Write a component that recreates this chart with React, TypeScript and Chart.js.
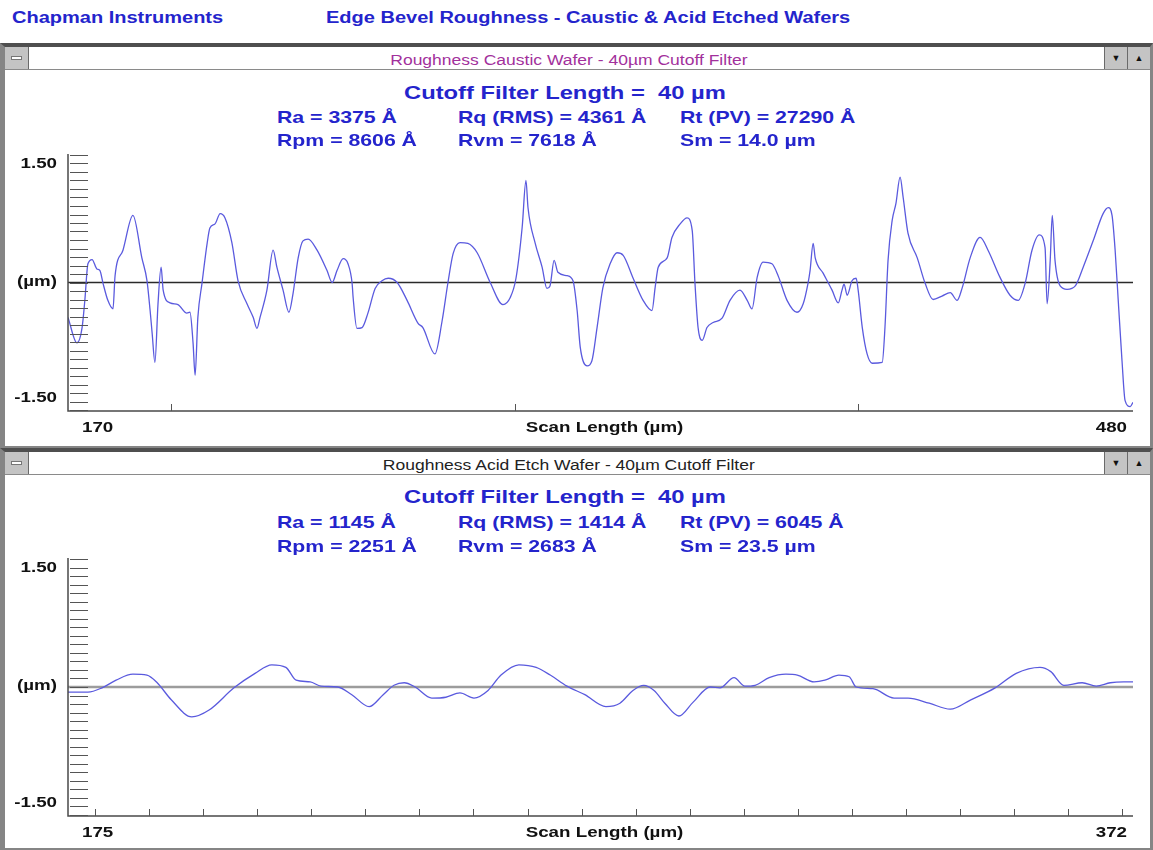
import React, { useEffect, useRef } from 'react';
import { Chart, registerables } from 'chart.js';

Chart.register(...registerables);

// ---------- DATA ----------
const HEADER_LEFT = 'Chapman Instruments';
const HEADER_TITLE = 'Edge Bevel Roughness - Caustic & Acid Etched Wafers';
const TOP_WINDOW_TITLE = 'Roughness Caustic Wafer - 40µm Cutoff Filter';
const BOT_WINDOW_TITLE = 'Roughness Acid Etch Wafer - 40µm Cutoff Filter';
const CUTOFF_TEXT = 'Cutoff Filter Length =  40 µm';
const TOP_STATS = [
  ['Ra = 3375 Å', 'Rq (RMS) = 4361 Å', 'Rt (PV) = 27290 Å'],
  ['Rpm = 8606 Å', 'Rvm = 7618 Å', 'Sm = 14.0 µm'],
];
const BOT_STATS = [
  ['Ra = 1145 Å', 'Rq (RMS) = 1414 Å', 'Rt (PV) = 6045 Å'],
  ['Rpm = 2251 Å', 'Rvm = 2683 Å', 'Sm = 23.5 µm'],
];

const Y_MIN = -1.5;
const Y_MAX = 1.5;
const Y_LABELS = ['1.50', '(µm)', '-1.50'];
const Y_LABEL_VALUES = [1.5, 0, -1.5];
const Y_MINOR_TICKS = [
  -1.5, -1.4, -1.3, -1.2, -1.1, -1.0, -0.9, -0.8, -0.7, -0.6, -0.5, -0.4, -0.3, -0.2, -0.1,
  0, 0.1, 0.2, 0.3, 0.4, 0.5, 0.6, 0.7, 0.8, 0.9, 1.0, 1.1, 1.2, 1.3, 1.4, 1.5,
];
const X_AXIS_TITLE = 'Scan Length (µm)';

const TOP_X_MIN = 170;
const TOP_X_MAX = 480;
const TOP_X_LABELS = ['170', '480'];
const TOP_X_TICKS = [200, 300, 400];

const BOT_X_MIN = 175;
const BOT_X_MAX = 372;
const BOT_X_LABELS = ['175', '372'];
const BOT_X_TICKS = [180, 190, 200, 210, 220, 230, 240, 250, 260, 270, 280, 290, 300, 310, 320, 330, 340, 350, 360, 370];

// Caustic wafer profile (scan position µm, height µm)
const TOP_X = [
  170.0, 172.6, 174.1, 174.9, 175.8, 177.0, 178.4, 179.3, 180.2, 181.6,
  183.1, 183.7, 186.0, 188.9, 191.5, 193.0, 193.9, 194.5, 195.3, 196.2,
  197.1, 197.7, 199.7, 202.0, 204.6, 205.5, 206.4, 207.0, 207.8, 209.0,
  210.5, 211.3, 212.8, 214.3, 215.7, 217.7, 219.5, 222.1, 223.9, 225.0,
  225.9, 227.9, 229.7, 230.8, 232.6, 234.3, 235.5, 237.0, 238.4, 239.9,
  242.5, 245.4, 246.9, 248.3, 250.1, 251.5, 252.7, 253.0, 254.1, 255.6,
  257.3, 259.4, 261.4, 263.2, 265.8, 268.7, 271.9,
  273.3, 276.8, 278.9, 280.6, 282.1, 284.1, 286.4, 289.1, 292.9, 296.6,
  298.7, 300.4, 302.2, 303.3, 303.9, 306.0, 308.0, 309.4, 310.3, 311.5,
  312.6, 315.3, 317.0, 318.2, 319.1, 321.1, 322.5, 324.0, 325.7, 327.8,
  329.8, 331.6, 334.5, 337.4, 340.0, 340.9, 341.8, 344.4, 345.8, 348.2,
  350.2, 351.7, 352.5, 353.4, 354.6, 356.0, 357.8, 360.4, 362.7, 365.6,
  367.7, 369.1, 370.6, 372.3, 374.9,
  376.7, 379.3, 382.2, 384.0, 385.4, 386.0, 386.9, 387.5, 389.8, 392.4,
  394.2, 395.3, 395.9, 396.8, 398.2, 399.4, 400.0, 401.2, 402.6, 404.1,
  407.0, 407.8, 408.7, 409.9, 411.0, 412.2, 413.1, 414.5, 417.2, 419.5,
  421.8, 424.4, 426.8, 428.8, 430.3, 432.6, 435.5, 437.8, 441.3, 444.2,
  446.6, 448.6, 450.6, 452.7, 454.4, 455.0, 455.9, 456.5, 457.3, 458.8,
  460.8, 463.2, 465.5, 468.4, 471.3, 472.8, 473.9, 474.8, 475.7, 476.8,
  477.7, 479.2, 480.0,
];
const TOP_Y = [
  -0.41, -0.71, -0.53, -0.21, 0.22, 0.27, 0.16, 0.14, -0.01, -0.21,
  -0.31, 0.08, 0.38, 0.79, 0.29, 0.02, -0.33, -0.60, -0.94, -0.25,
  0.18, -0.09, -0.24, -0.26, -0.36, -0.35, -0.71, -1.09, -0.41, -0.01,
  0.46, 0.64, 0.69, 0.81, 0.76, 0.47, 0.02, -0.25, -0.41, -0.54,
  -0.41, -0.09, 0.38, 0.18, -0.09, -0.35, -0.13, 0.29, 0.49, 0.51,
  0.38, 0.14, 0.00, 0.14, 0.28, 0.22, -0.01, -0.18, -0.54, -0.53,
  -0.36, -0.07, 0.02, 0.05, 0.00, -0.21, -0.48,
  -0.53, -0.84, -0.45, 0.00, 0.34, 0.47, 0.46, 0.35, 0.00, -0.26,
  -0.18, 0.05, 0.65, 1.20, 0.88, 0.46, 0.18, -0.07, -0.04, 0.26,
  0.12, 0.08, 0.02, -0.33, -0.76, -0.98, -0.92, -0.53, -0.06, 0.22,
  0.35, 0.32, 0.05, -0.21, -0.33, -0.06, 0.18, 0.29, 0.53, 0.69,
  0.76, 0.61, -0.01, -0.53, -0.68, -0.53, -0.47, -0.42, -0.21, -0.09,
  -0.21, -0.31, 0.06, 0.24, 0.22,
  0.08, -0.21, -0.35, -0.25, -0.01, 0.14, 0.46, 0.29, 0.11, -0.09,
  -0.24, -0.09, -0.02, -0.15, 0.02, 0.05, -0.09, -0.53, -0.84, -0.95,
  -0.94, -0.53, 0.26, 0.73, 0.93, 1.24, 1.00, 0.58, 0.29, -0.01,
  -0.20, -0.16, -0.12, -0.21, -0.06, 0.29, 0.53, 0.38, 0.06, -0.15,
  -0.21, -0.01, 0.38, 0.56, 0.41, -0.25, 0.26, 0.79, 0.26, -0.04,
  -0.08, -0.04, 0.18, 0.49, 0.81, 0.88, 0.79, 0.38, -0.21, -0.92,
  -1.39, -1.46, -1.41,
];

// Acid etch wafer profile
const BOT_X = [
  175.0, 178.7, 181.3, 183.9, 187.0, 189.6, 191.5, 194.1, 197.9, 201.1,
  205.7, 209.6, 212.7, 215.3, 217.2, 219.8, 221.8, 224.9, 227.5, 230.7,
  233.3, 235.3, 237.2, 239.2, 242.3, 244.9, 247.5, 250.1, 252.7, 255.1,
  258.4, 261.6, 264.2, 267.3, 270.6, 274.5, 277.1, 279.5, 281.5, 283.4,
  285.4, 288.0, 290.6, 293.8, 295.6, 298.2, 300.2, 302.1, 304.7, 307.8,
  309.9, 313.0, 315.0, 317.6, 319.5, 320.8, 323.9, 327.8, 330.4, 334.3,
  338.2, 342.0, 346.5, 350.4, 354.8, 356.8, 359.2, 362.6, 365.2, 367.8,
  370.3, 372.0,
];
const BOT_Y = [
  -0.06, -0.06, -0.01, 0.08, 0.15, 0.14, 0.05, -0.15, -0.35, -0.27,
  -0.01, 0.16, 0.26, 0.23, 0.08, 0.06, 0.01, 0.00, -0.09, -0.23,
  -0.09, 0.02, 0.05, 0.00, -0.13, -0.12, -0.07, -0.13, -0.04, 0.14,
  0.26, 0.23, 0.14, 0.01, -0.09, -0.23, -0.19, -0.04, 0.02, -0.04,
  -0.19, -0.34, -0.18, 0.00, -0.01, 0.11, 0.01, 0.02, 0.11, 0.15,
  0.14, 0.06, 0.08, 0.14, 0.12, 0.00, -0.02, -0.13, -0.13, -0.19,
  -0.26, -0.15, -0.01, 0.16, 0.23, 0.18, 0.02, 0.05, 0.01, 0.05,
  0.06, 0.06,
];

// ---------- STYLE ----------
const FONT = '"Liberation Sans", Arial, Helvetica, sans-serif';
const SX = 1.25;
const BLUE = '#2424cc';
const TRACE = '#5a5ade';

type PanelCfg = {
  xs: number[];
  ys: number[];
  xMin: number;
  xMax: number;
  xTicks: number[];
  xLabels: string[];
  zeroColor: string;
  zeroWidth: number;
  padTop: number;
  padBottom: number;
  tickColor: string;
};

function drawStretched(ctx: CanvasRenderingContext2D, text: string, x: number, y: number, align: CanvasTextAlign) {
  ctx.save();
  ctx.translate(x, y);
  ctx.scale(SX, 1);
  ctx.textAlign = align;
  ctx.textBaseline = 'middle';
  ctx.fillText(text, 0, 0);
  ctx.restore();
}

function makePlugin(cfg: PanelCfg) {
  return {
    id: 'profileFrame',
    beforeDatasetsDraw(chart: any) {
      const { ctx, chartArea } = chart;
      const y = chart.scales.y;
      const p0 = y.getPixelForValue(0);
      ctx.save();
      ctx.strokeStyle = cfg.zeroColor;
      ctx.lineWidth = cfg.zeroWidth;
      ctx.beginPath();
      ctx.moveTo(chartArea.left, p0);
      ctx.lineTo(chartArea.right, p0);
      ctx.stroke();
      ctx.restore();
    },
    afterDatasetsDraw(chart: any) {
      const { ctx, chartArea } = chart;
      const xs = chart.scales.x;
      const ys = chart.scales.y;
      const { left, right, top, bottom } = chartArea;
      ctx.save();
      // axis lines
      ctx.strokeStyle = '#4a4a4a';
      ctx.lineWidth = 1.5;
      ctx.beginPath();
      ctx.moveTo(left, top - 1);
      ctx.lineTo(left, bottom + 1);
      ctx.lineTo(right, bottom + 1);
      ctx.stroke();
      // minor y ticks inside plot
      ctx.strokeStyle = cfg.tickColor;
      ctx.lineWidth = 1;
      Y_MINOR_TICKS.forEach((v) => {
        const py = Math.round(ys.getPixelForValue(v)) + 0.5;
        ctx.beginPath();
        ctx.moveTo(left + 2, py);
        ctx.lineTo(left + 20, py);
        ctx.stroke();
      });
      // x ticks (upward)
      ctx.strokeStyle = '#555';
      cfg.xTicks.forEach((v) => {
        const px = Math.round(xs.getPixelForValue(v)) + 0.5;
        ctx.beginPath();
        ctx.moveTo(px, bottom + 1);
        ctx.lineTo(px, bottom - 6);
        ctx.stroke();
      });
      // y labels
      ctx.fillStyle = '#111';
      ctx.font = `bold 15px ${FONT}`;
      const yOff = [9, -1, -12];
      Y_LABEL_VALUES.forEach((v, i) => {
        drawStretched(ctx, Y_LABELS[i], 57, ys.getPixelForValue(v) + yOff[i], 'right');
      });
      // x labels
      const ly = bottom + 18;
      drawStretched(ctx, cfg.xLabels[0], left + 14, ly, 'left');
      drawStretched(ctx, X_AXIS_TITLE, (left + right) / 2 + 4, ly, 'center');
      drawStretched(ctx, cfg.xLabels[1], right - 6, ly, 'right');
      ctx.restore();
    },
  };
}

function ProfileChart({ cfg, top }: { cfg: PanelCfg; top: number }) {
  const ref = useRef<HTMLCanvasElement | null>(null);
  useEffect(() => {
    if (!ref.current) return;
    const n = Math.min(cfg.xs.length, cfg.ys.length);
    const pts = [];
    for (let i = 0; i < n; i++) pts.push({ x: cfg.xs[i], y: cfg.ys[i] });
    const chart = new Chart(ref.current, {
      type: 'line',
      data: {
        datasets: [
          {
            data: pts,
            borderColor: TRACE,
            borderWidth: 1.3,
            pointRadius: 0,
            fill: false,
            cubicInterpolationMode: 'monotone',
          },
        ],
      },
      options: {
        responsive: false,
        animation: false,
        events: [],
        layout: { padding: { left: 68, right: 20, top: cfg.padTop, bottom: cfg.padBottom } },
        plugins: { legend: { display: false }, tooltip: { enabled: false } },
        scales: {
          x: { type: 'linear', min: cfg.xMin, max: cfg.xMax, display: false },
          y: { type: 'linear', min: Y_MIN, max: Y_MAX, display: false },
        },
      },
      plugins: [makePlugin(cfg)],
    } as any);
    return () => chart.destroy();
  }, [cfg]);
  return (
    <canvas
      ref={ref}
      width={1153}
      height={295}
      style={{ position: 'absolute', left: 0, top, width: 1153, height: 295, zIndex: 5 }}
    />
  );
}

function Txt({ x, cy, size, color, text }: { x: number; cy: number; size: number; color: string; text: string }) {
  const lh = size + 6;
  return (
    <div
      style={{
        position: 'absolute',
        left: x,
        top: cy - lh / 2,
        height: lh,
        lineHeight: `${lh}px`,
        fontSize: size,
        fontWeight: 'bold',
        color,
        whiteSpace: 'pre',
        transform: `scaleX(${SX})`,
        transformOrigin: 'left center',
        zIndex: 6,
      }}
    >
      {text}
    </div>
  );
}

function CenterTxt({ cx, cy, size, color, text, bold }: { cx: number; cy: number; size: number; color: string; text: string; bold?: boolean }) {
  const lh = size + 6;
  return (
    <div
      style={{
        position: 'absolute',
        left: cx - 400,
        width: 800,
        top: cy - lh / 2,
        height: lh,
        lineHeight: `${lh}px`,
        textAlign: 'center',
        zIndex: 6,
      }}
    >
      <span
        style={{
          display: 'inline-block',
          fontSize: size,
          fontWeight: bold ? 'bold' : 'normal',
          color,
          whiteSpace: 'pre',
          transform: `scaleX(${SX})`,
          transformOrigin: 'center center',
        }}
      >
        {text}
      </span>
    </div>
  );
}

function WindowFrame({ top, height, title, titleColor }: { top: number; height: number; title: string; titleColor: string }) {
  const btn: React.CSSProperties = {
    position: 'absolute',
    top: 0,
    width: 22,
    height: 22,
    background: '#c4c4c4',
    display: 'flex',
    alignItems: 'center',
    justifyContent: 'center',
    fontSize: 9,
    color: '#111',
  };
  return (
    <div
      style={{
        position: 'absolute',
        left: 0,
        top,
        width: 1153,
        height,
        boxSizing: 'border-box',
        borderLeft: '5px solid #858585',
        borderRight: '3px solid #858585',
        borderBottom: '2px solid #858585',
        borderTop: '4px solid #4f4f4f',
        background: '#fff',
      }}
    >
      <div style={{ position: 'absolute', left: 0, right: 0, top: 0, height: 22, borderBottom: '1px solid #8a8a8a', background: '#fff' }}>
        <div style={{ ...btn, left: 0, width: 23, borderRight: '1px solid #6a6a6a' }}>
          <div style={{ width: 9, height: 2, background: '#fff', border: '1px solid #777' }} />
        </div>
        <div style={{ ...btn, right: 23, borderLeft: '1px solid #6a6a6a' }}>▼</div>
        <div style={{ ...btn, right: 0, borderLeft: '1px solid #6a6a6a' }}>▲</div>
      </div>
      <CenterTxt cx={564} cy={13} size={14} color={titleColor} text={title} />
    </div>
  );
}

const TOP_CFG: PanelCfg = {
  xs: TOP_X,
  ys: TOP_Y,
  xMin: TOP_X_MIN,
  xMax: TOP_X_MAX,
  xTicks: TOP_X_TICKS,
  xLabels: TOP_X_LABELS,
  zeroColor: '#2a2a2a',
  zeroWidth: 1.3,
  padTop: 5,
  padBottom: 35,
  tickColor: '#555',
};
const BOT_CFG: PanelCfg = {
  xs: BOT_X,
  ys: BOT_Y,
  xMin: BOT_X_MIN,
  xMax: BOT_X_MAX,
  xTicks: BOT_X_TICKS,
  xLabels: BOT_X_LABELS,
  zeroColor: '#9c9c9c',
  zeroWidth: 2.5,
  padTop: 6,
  padBottom: 33,
  tickColor: '#555',
};

export default function App() {
  const statCols = [277, 458, 680];
  return (
    <div
      style={{
        position: 'fixed',
        left: 0,
        top: 0,
        width: 1153,
        height: 850,
        background: '#fff',
        overflow: 'hidden',
        fontFamily: FONT,
      }}
    >
      <Txt x={12} cy={18} size={16} color={BLUE} text={HEADER_LEFT} />
      <Txt x={326} cy={18} size={16} color={BLUE} text={HEADER_TITLE} />

      <WindowFrame top={43} height={405} title={TOP_WINDOW_TITLE} titleColor="#a2309c" />
      <WindowFrame top={448} height={402} title={BOT_WINDOW_TITLE} titleColor="#222" />

      <Txt x={404} cy={92} size={19} color={BLUE} text={CUTOFF_TEXT} />
      {TOP_STATS.map((row, r) =>
        row.map((t, c) => <Txt key={`t${r}${c}`} x={statCols[c]} cy={117 + r * 23} size={17} color={BLUE} text={t} />)
      )}
      <Txt x={404} cy={496} size={19} color={BLUE} text={CUTOFF_TEXT} />
      {BOT_STATS.map((row, r) =>
        row.map((t, c) => <Txt key={`b${r}${c}`} x={statCols[c]} cy={522 + r * 24} size={17} color={BLUE} text={t} />)
      )}

      <ProfileChart cfg={TOP_CFG} top={150} />
      <ProfileChart cfg={BOT_CFG} top={553} />
    </div>
  );
}
